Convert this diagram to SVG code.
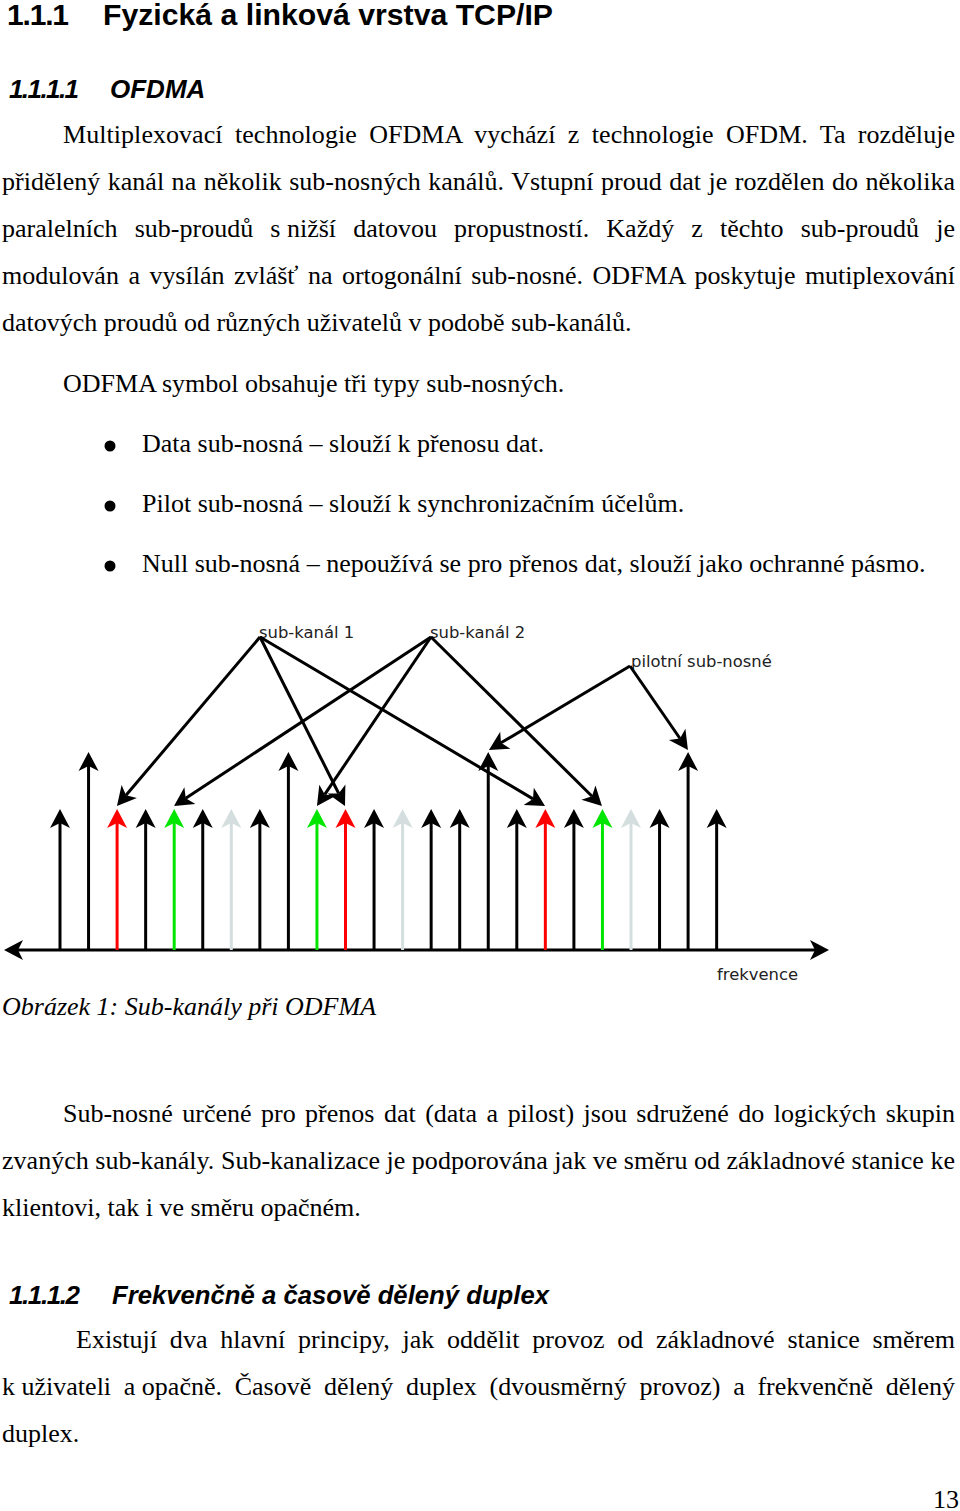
<svg xmlns="http://www.w3.org/2000/svg" width="960" height="1511" viewBox="0 0 960 1511">
<style>
  .h1 { font-family: "Liberation Sans", Arial, sans-serif; font-weight: bold; font-size: 30px; fill: #000; }
  .h2 { font-family: "Liberation Sans", Arial, sans-serif; font-weight: bold; font-style: italic; font-size: 26px; fill: #000; }
  .body { font-family: "Liberation Serif", "Times New Roman", serif; font-size: 26px; fill: #000; }
  .cap { font-family: "Liberation Serif", "Times New Roman", serif; font-style: italic; font-size: 26px; fill: #000; }
  .lbl { font-family: "DejaVu Sans", sans-serif; font-size: 16.4px; fill: #222; }
  .k { stroke: #000; stroke-width: 3; fill: none; }
  .r { stroke: #ff0000; stroke-width: 3; fill: none; }
  .g { stroke: #00e600; stroke-width: 3; fill: none; }
  .n { stroke: #d5dede; stroke-width: 3; fill: none; }
  .ck { stroke: #000; stroke-width: 3; fill: none; marker-end: url(#ah-k); }
</style>
<defs>
  <marker id="ah-k" markerUnits="userSpaceOnUse" orient="auto-start-reverse" refX="0" refY="0" markerWidth="40" markerHeight="40" overflow="visible">
    <path d="M14,0 L-5,-10 L0,0 L-5,10 Z" fill="#000"/>
  </marker>
  <marker id="ah-r" markerUnits="userSpaceOnUse" orient="auto" refX="0" refY="0" markerWidth="40" markerHeight="40" overflow="visible">
    <path d="M14,0 L-5,-10 L0,0 L-5,10 Z" fill="#ff0000"/>
  </marker>
  <marker id="ah-g" markerUnits="userSpaceOnUse" orient="auto" refX="0" refY="0" markerWidth="40" markerHeight="40" overflow="visible">
    <path d="M14,0 L-5,-10 L0,0 L-5,10 Z" fill="#00e600"/>
  </marker>
  <marker id="ah-n" markerUnits="userSpaceOnUse" orient="auto" refX="0" refY="0" markerWidth="40" markerHeight="40" overflow="visible">
    <path d="M14,0 L-5,-10 L0,0 L-5,10 Z" fill="#d5dede"/>
  </marker>
</defs>
<rect width="960" height="1511" fill="#fff"/>

<g id="heading-1">
  <text class="h1" x="7" y="25" textLength="62" lengthAdjust="spacing">1.1.1</text>
  <text class="h1" x="103" y="25" textLength="450" lengthAdjust="spacingAndGlyphs">Fyzická a linková vrstva TCP/IP</text>
</g>
<g id="heading-1-1">
  <text class="h2" x="9" y="98" textLength="70" lengthAdjust="spacing">1.1.1.1</text>
  <text class="h2" x="110" y="98">OFDMA</text>
</g>

<g id="para-1">
  <text class="body" x="63" y="143" textLength="892" lengthAdjust="spacing" style="word-spacing:5.8px">Multiplexovací technologie OFDMA vychází z technologie OFDM. Ta rozděluje</text>
  <text class="body" x="2" y="190" textLength="953" lengthAdjust="spacing" style="word-spacing:1px">přidělený kanál na několik sub-nosných kanálů. Vstupní proud dat je rozdělen do několika</text>
  <text class="body" x="2" y="237" textLength="953" lengthAdjust="spacing" style="word-spacing:10.6px">paralelních sub-proudů <tspan style="word-spacing:0">s nižší</tspan> datovou propustností. Každý z těchto sub-proudů je</text>
  <text class="body" x="2" y="284" textLength="953" lengthAdjust="spacing" style="word-spacing:3px">modulován a vysílán zvlášť na ortogonální sub-nosné. ODFMA poskytuje mutiplexování</text>
  <text class="body" x="2" y="331">datových proudů od různých uživatelů v podobě sub-kanálů.</text>
  <text class="body" x="63" y="392">ODFMA symbol obsahuje tři typy sub-nosných.</text>
</g>

<g id="bullets">
  <circle cx="110" cy="446" r="5.5" fill="#000"/>
  <text class="body" x="142" y="452">Data sub-nosná – slouží k přenosu dat.</text>
  <circle cx="110" cy="506" r="5.5" fill="#000"/>
  <text class="body" x="142" y="512">Pilot sub-nosná – slouží k synchronizačním účelům.</text>
  <circle cx="110" cy="566" r="5.5" fill="#000"/>
  <text class="body" x="142" y="572">Null sub-nosná – nepoužívá se pro přenos dat, slouží jako ochranné pásmo.</text>
</g>

<g id="axis">
  <line x1="18" y1="950" x2="815" y2="950" stroke="#000" stroke-width="3" marker-start="url(#ah-k)" marker-end="url(#ah-k)"/>
</g>

<g id="carriers">
  <line class="k" x1="60" y1="950" x2="60" y2="823" marker-end="url(#ah-k)"/>
  <line class="k" x1="88.55" y1="950" x2="88.55" y2="766" marker-end="url(#ah-k)"/>
  <line class="r" x1="117.1" y1="950" x2="117.1" y2="823" marker-end="url(#ah-r)"/>
  <line class="k" x1="145.65" y1="950" x2="145.65" y2="823" marker-end="url(#ah-k)"/>
  <line class="g" x1="174.2" y1="950" x2="174.2" y2="823" marker-end="url(#ah-g)"/>
  <line class="k" x1="202.75" y1="950" x2="202.75" y2="823" marker-end="url(#ah-k)"/>
  <line class="n" x1="231.3" y1="950" x2="231.3" y2="823" marker-end="url(#ah-n)"/>
  <line class="k" x1="259.85" y1="950" x2="259.85" y2="823" marker-end="url(#ah-k)"/>
  <line class="k" x1="288.4" y1="950" x2="288.4" y2="766" marker-end="url(#ah-k)"/>
  <line class="g" x1="316.95" y1="950" x2="316.95" y2="823" marker-end="url(#ah-g)"/>
  <line class="r" x1="345.5" y1="950" x2="345.5" y2="823" marker-end="url(#ah-r)"/>
  <line class="k" x1="374.05" y1="950" x2="374.05" y2="823" marker-end="url(#ah-k)"/>
  <line class="n" x1="402.6" y1="950" x2="402.6" y2="823" marker-end="url(#ah-n)"/>
  <line class="k" x1="431.15" y1="950" x2="431.15" y2="823" marker-end="url(#ah-k)"/>
  <line class="k" x1="459.7" y1="950" x2="459.7" y2="823" marker-end="url(#ah-k)"/>
  <line class="k" x1="488.25" y1="950" x2="488.25" y2="766" marker-end="url(#ah-k)"/>
  <line class="k" x1="516.8" y1="950" x2="516.8" y2="823" marker-end="url(#ah-k)"/>
  <line class="r" x1="545.35" y1="950" x2="545.35" y2="823" marker-end="url(#ah-r)"/>
  <line class="k" x1="573.9" y1="950" x2="573.9" y2="823" marker-end="url(#ah-k)"/>
  <line class="g" x1="602.45" y1="950" x2="602.45" y2="823" marker-end="url(#ah-g)"/>
  <line class="n" x1="631" y1="950" x2="631" y2="823" marker-end="url(#ah-n)"/>
  <line class="k" x1="659.55" y1="950" x2="659.55" y2="823" marker-end="url(#ah-k)"/>
  <line class="k" x1="688.1" y1="950" x2="688.1" y2="766" marker-end="url(#ah-k)"/>
  <line class="k" x1="716.65" y1="950" x2="716.65" y2="823" marker-end="url(#ah-k)"/>
</g>

<g id="label-subkanal-1"><text class="lbl" x="259" y="638">sub-kanál 1</text></g>
<g id="label-subkanal-2"><text class="lbl" x="430" y="638">sub-kanál 2</text></g>
<g id="label-pilot"><text class="lbl" x="631" y="667">pilotní sub-nosné</text></g>
<g id="label-frekvence"><text class="lbl" x="717" y="980">frekvence</text></g>

<g id="connectors">
  <line class="ck" x1="260" y1="637" x2="126" y2="795.3"/>
  <line class="ck" x1="260" y1="637" x2="338.7" y2="793.5"/>
  <line class="ck" x1="260" y1="637" x2="533" y2="798.9"/>
  <line class="ck" x1="431" y1="637" x2="185.7" y2="798.3"/>
  <line class="ck" x1="431" y1="637" x2="324.8" y2="794.4"/>
  <line class="ck" x1="431" y1="637" x2="592" y2="796.2"/>
  <line class="ck" x1="630" y1="666" x2="501" y2="742.8"/>
  <line class="ck" x1="630" y1="666" x2="680" y2="738.5"/>
</g>

<g id="caption">
  <text class="cap" x="2" y="1015">Obrázek 1: Sub-kanály při ODFMA</text>
</g>

<g id="para-2">
  <text class="body" x="63" y="1122" textLength="892" lengthAdjust="spacing" style="word-spacing:3px">Sub-nosné určené pro přenos dat (data a pilost) jsou sdružené do logických skupin</text>
  <text class="body" x="2" y="1169" textLength="953" lengthAdjust="spacing">zvaných sub-kanály. Sub-kanalizace je podporována jak ve směru od základnové stanice ke</text>
  <text class="body" x="2" y="1216">klientovi, tak i ve směru opačném.</text>
</g>

<g id="heading-1-2">
  <text class="h2" x="9" y="1304" textLength="71" lengthAdjust="spacing">1.1.1.2</text>
  <text class="h2" x="112" y="1304" textLength="437" lengthAdjust="spacingAndGlyphs">Frekvenčně a časově dělený duplex</text>
</g>

<g id="para-3">
  <text class="body" x="76" y="1348" textLength="879" lengthAdjust="spacing" style="word-spacing:6.2px">Existují dva hlavní principy, jak oddělit provoz od základnové stanice směrem</text>
  <text class="body" x="2" y="1395" textLength="953" lengthAdjust="spacing" style="word-spacing:6.2px"><tspan style="word-spacing:0">k uživateli</tspan> <tspan style="word-spacing:0">a opačně.</tspan> Časově dělený duplex (dvousměrný provoz) a frekvenčně dělený</text>
  <text class="body" x="2" y="1442">duplex.</text>
</g>

<g id="page-number">
  <text class="body" x="933" y="1508">13</text>
</g>
</svg>
